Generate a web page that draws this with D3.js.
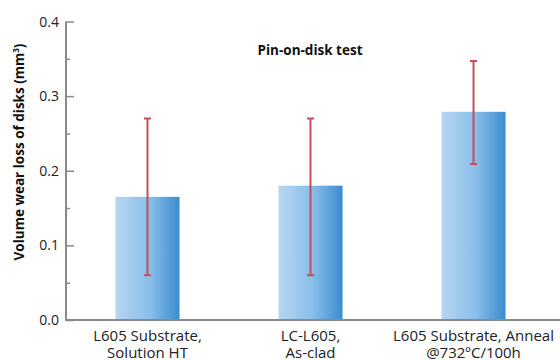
<!DOCTYPE html>
<html><head><meta charset="utf-8">
<script src="https://cdn.jsdelivr.net/npm/d3@7"></script>
<style>body{margin:0;background:#fff}svg{display:block}text{font-family:"Open Sans","Noto Sans",sans-serif}</style>
</head><body><svg id="c" width="560" height="360"></svg>
<script>
const categories = [["L605 Substrate,","Solution HT"],["LC-L605,","As-clad"],["L605 Substrate, Anneal","@732ºC/100h"]];
const values = [0.165, 0.18, 0.279];
const errLow = [0.06, 0.06, 0.209];
const errHigh = [0.27, 0.27, 0.347];
const yTicks = [0.0, 0.1, 0.2, 0.3, 0.4];
const yMinorTicks = [0.05, 0.15, 0.25, 0.35];

const svg = d3.select("#c");
const defs = svg.append("defs");
const g1 = defs.append("linearGradient").attr("id","bg").attr("x1","0").attr("x2","1").attr("y1","0").attr("y2","0");
g1.append("stop").attr("offset","0%").attr("stop-color","#b6d7f3");
g1.append("stop").attr("offset","55%").attr("stop-color","#88bce8");
g1.append("stop").attr("offset","100%").attr("stop-color","#3a8ccf");

const x0 = 66, xEnd = 555, yTop = 21.5, yBot = 320;
const x = d3.scaleBand().domain(d3.range(categories.length)).range([x0, xEnd]).paddingInner(0.607).paddingOuter(0.3035);
const y = d3.scaleLinear().domain([0, 0.4]).range([yBot, yTop]);

// bars
svg.selectAll("rect.bar").data(values).join("rect").attr("class","bar")
  .attr("x",(d,i)=>x(i)).attr("width",x.bandwidth())
  .attr("y",d=>y(d)).attr("height",d=>yBot-y(d)).attr("fill","url(#bg)");

// error bars
const eb = svg.append("g").attr("stroke","#c0505c").attr("stroke-width",2);
values.forEach((v,i)=>{
  const cx = x(i)+x.bandwidth()/2;
  eb.append("line").attr("x1",cx).attr("x2",cx).attr("y1",y(errLow[i])).attr("y2",y(errHigh[i]));
  eb.append("line").attr("x1",cx-3.5).attr("x2",cx+3.5).attr("y1",y(errLow[i])).attr("y2",y(errLow[i]));
  eb.append("line").attr("x1",cx-3.5).attr("x2",cx+3.5).attr("y1",y(errHigh[i])).attr("y2",y(errHigh[i]));
});

// y axis
const yAxis = svg.append("g").attr("transform",`translate(${x0},0)`)
  .call(d3.axisRight(y).tickValues(yTicks).tickSize(8).tickFormat(""));
yAxis.select(".domain").remove();
yAxis.selectAll("line").attr("stroke","#8a8a8a").attr("stroke-width",1.5);
const yMinor = svg.append("g").attr("transform",`translate(${x0},0)`)
  .call(d3.axisRight(y).tickValues(yMinorTicks).tickSize(4).tickFormat(""));
yMinor.select(".domain").remove();
yMinor.selectAll("line").attr("stroke","#8a8a8a").attr("stroke-width",1.5);
svg.append("line").attr("x1",x0).attr("x2",x0).attr("y1",yTop).attr("y2",yBot).attr("stroke","#8a8a8a").attr("stroke-width",2);
svg.append("line").attr("x1",x0-1).attr("x2",560).attr("y1",yBot).attr("y2",yBot).attr("stroke","#8a8a8a").attr("stroke-width",2);

svg.selectAll("text.yt").data(yTicks).join("text").attr("class","yt")
  .attr("x",59).attr("y",d=>y(d)+5).attr("text-anchor","end")
  .attr("font-size",14).attr("fill","#222").text(d=>d.toFixed(1));

// x labels
categories.forEach((lines,i)=>{
  const cx = x(i)+x.bandwidth()/2;
  lines.forEach((l,j)=>svg.append("text").attr("text-anchor","middle").attr("font-size",15).attr("fill","#222")
    .attr("x",cx).attr("y",341+j*16.5).text(l));
});

// title
svg.append("text").attr("x",310).attr("y",55).attr("text-anchor","middle")
  .attr("font-size",13.5).attr("font-weight","bold").attr("fill","#111").text("Pin-on-disk test");

// y label
const yl = svg.append("text").attr("transform","translate(24,152) rotate(-90)").attr("text-anchor","middle")
  .attr("font-size",13.5).attr("font-weight","bold").attr("fill","#111");
yl.append("tspan").text("Volume wear loss of disks (mm");
yl.append("tspan").attr("dy",-5).attr("font-size",8).text("3");
yl.append("tspan").attr("dy",5).text(")");
</script></body></html>
